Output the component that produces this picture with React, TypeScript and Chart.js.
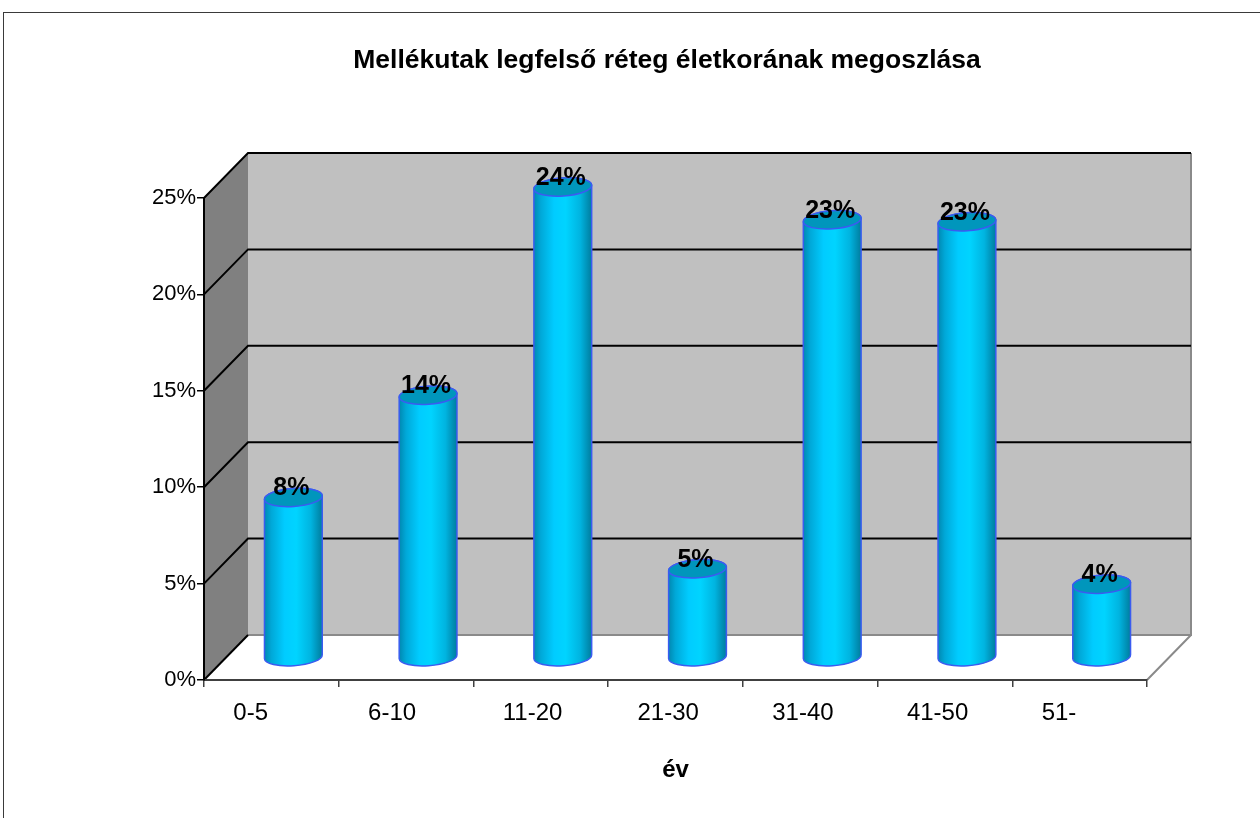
import React, { useEffect, useRef } from "react";
import { Chart, registerables } from "chart.js";

Chart.register(...registerables);

const TITLE = "Mellékutak legfelső réteg életkorának megoszlása";
const X_TITLE = "év";
const categories = ["0-5", "6-10", "11-20", "21-30", "31-40", "41-50", "51-"];
const shares = [0.083, 0.136, 0.244, 0.046, 0.227, 0.226, 0.038];
const yMin = 0;
const yMax = 0.25;
const yStep = 0.05;

const FONT = "Arial, 'Liberation Sans', sans-serif";
const DX = 44;
const DY = -45;

const pct = (v: number) => `${Math.round(v * 100)}%`;

const wallsPlugin = {
  id: "walls3d",
  beforeDraw(chart: any) {
    const { ctx, chartArea, scales } = chart;
    const y = scales.y;
    const L = chartArea.left;
    const R = chartArea.right;
    const T = chartArea.top;
    const B = chartArea.bottom;
    ctx.save();
    ctx.strokeStyle = "#3a3a3a";
    ctx.lineWidth = 1;
    ctx.strokeRect(3.5, 12.5, 1400, 1000);
    ctx.fillStyle = "#000";
    ctx.font = `bold 26.5px ${FONT}`;
    ctx.textAlign = "center";
    ctx.textBaseline = "middle";
    ctx.fillText(TITLE, 667, 61);

    ctx.fillStyle = "#C0C0C0";
    ctx.beginPath();
    ctx.moveTo(L + DX, T + DY);
    ctx.lineTo(R + DX, T + DY);
    ctx.lineTo(R + DX, B + DY);
    ctx.lineTo(L + DX, B + DY);
    ctx.closePath();
    ctx.fill();
    ctx.fillStyle = "#808080";
    ctx.beginPath();
    ctx.moveTo(L, T);
    ctx.lineTo(L + DX, T + DY);
    ctx.lineTo(L + DX, B + DY);
    ctx.lineTo(L, B);
    ctx.closePath();
    ctx.fill();
    ctx.fillStyle = "#FFFFFF";
    ctx.beginPath();
    ctx.moveTo(L, B);
    ctx.lineTo(L + DX, B + DY);
    ctx.lineTo(R + DX, B + DY);
    ctx.lineTo(R, B);
    ctx.closePath();
    ctx.fill();

    ctx.strokeStyle = "#8a8a8a";
    ctx.lineWidth = 2;
    ctx.beginPath();
    ctx.moveTo(L + DX, B + DY);
    ctx.lineTo(R + DX, B + DY);
    ctx.lineTo(R + DX, T + DY);
    ctx.moveTo(R + DX, B + DY);
    ctx.lineTo(R, B);
    ctx.stroke();

    ctx.strokeStyle = "#000";
    ctx.lineWidth = 2;
    y.ticks.forEach((t: any) => {
      const py = y.getPixelForValue(t.value);
      ctx.beginPath();
      ctx.moveTo(L, py);
      ctx.lineTo(L + DX, py + DY);
      if (t.value > 0) ctx.lineTo(R + DX, py + DY);
      ctx.stroke();
    });
    ctx.restore();
  },
};

const cylinderPlugin = {
  id: "cylinders",
  afterDatasetsDraw(chart: any) {
    const { ctx } = chart;
    const meta = chart.getDatasetMeta(0);
    const rot = -0.07;
    meta.data.forEach((bar: any, i: number) => {
      const hw = bar.width / 2;
      const cx = bar.x + DX / 2;
      const topY = bar.y + DY / 2;
      const botY = bar.base + DY / 2;
      const ry = 9;
      const c = Math.cos(rot) * hw;
      const s = Math.sin(rot) * hw;
      ctx.save();
      const grad = ctx.createLinearGradient(cx - hw, 0, cx + hw, 0);
      grad.addColorStop(0, "#0088B0");
      grad.addColorStop(0.12, "#00A8D8");
      grad.addColorStop(0.35, "#00CCFF");
      grad.addColorStop(0.55, "#00D4FF");
      grad.addColorStop(0.8, "#00B4E0");
      grad.addColorStop(1, "#007C9E");
      ctx.beginPath();
      ctx.moveTo(cx - c, topY - s);
      ctx.lineTo(cx - c, botY - s);
      ctx.ellipse(cx, botY, hw, ry, rot, Math.PI, 0, true);
      ctx.lineTo(cx + c, topY + s);
      ctx.ellipse(cx, topY, hw, ry, rot, 0, Math.PI, true);
      ctx.closePath();
      ctx.fillStyle = grad;
      ctx.fill();
      ctx.strokeStyle = "#3A5CF0";
      ctx.lineWidth = 1.5;
      ctx.stroke();
      ctx.beginPath();
      ctx.ellipse(cx, topY, hw, ry, rot, 0, Math.PI * 2);
      ctx.fillStyle = "#0096BC";
      ctx.fill();
      ctx.stroke();
      ctx.fillStyle = "#000";
      ctx.font = `bold 25px ${FONT}`;
      ctx.textAlign = "center";
      ctx.textBaseline = "middle";
      ctx.fillText(pct(shares[i]), cx - 2, topY - 9);
      ctx.restore();
    });
  },
};

export default function App() {
  const ref = useRef<HTMLCanvasElement | null>(null);
  useEffect(() => {
    if (!ref.current) return;
    Chart.defaults.font.family = FONT;
    const chart = new Chart(ref.current, {
      type: "bar",
      data: {
        labels: categories,
        datasets: [
          {
            data: shares,
            backgroundColor: "rgba(0,0,0,0)",
            borderWidth: 0,
            barPercentage: 0.43,
            categoryPercentage: 1,
          },
        ],
      },
      options: {
        animation: false,
        responsive: false,
        events: [],
        layout: { padding: { left: 104, right: 113, top: 198, bottom: 0 } },
        plugins: {
          legend: { display: false },
          title: { display: false },
          tooltip: { enabled: false },
        },
        scales: {
          x: {
            afterFit: (s: any) => {
              s.height = 138;
            },
            grid: {
              drawOnChartArea: false,
              drawTicks: true,
              tickLength: 7,
              color: "#404040",
              lineWidth: 1.5,
              offset: true,
            },
            border: { display: true, color: "#404040", width: 2 },
            ticks: {
              color: "#000",
              font: { size: 24 },
              padding: 12,
              align: "start",
              labelOffset: -38,
            },
            title: {
              display: true,
              text: X_TITLE,
              color: "#000",
              font: { size: 24, weight: "bold" },
              padding: { top: 0, bottom: 33 },
            },
          },
          y: {
            min: yMin,
            max: yMax,
            afterFit: (s: any) => {
              s.width = 100;
            },
            grid: {
              drawOnChartArea: false,
              drawTicks: true,
              tickLength: 7,
              color: "#000",
              lineWidth: 1.5,
            },
            border: { display: true, color: "#000", width: 2 },
            ticks: {
              stepSize: yStep,
              color: "#000",
              font: { size: 22 },
              padding: 1,
              callback: (v: any) => pct(Number(v)),
            },
          },
        },
      },
      plugins: [wallsPlugin, cylinderPlugin],
    });
    return () => chart.destroy();
  }, []);
  return (
    <div style={{ position: "fixed", left: 0, top: 0, width: 1260, height: 818, background: "#fff" }}>
      <canvas ref={ref} width={1260} height={818} style={{ display: "block" }} />
    </div>
  );
}
